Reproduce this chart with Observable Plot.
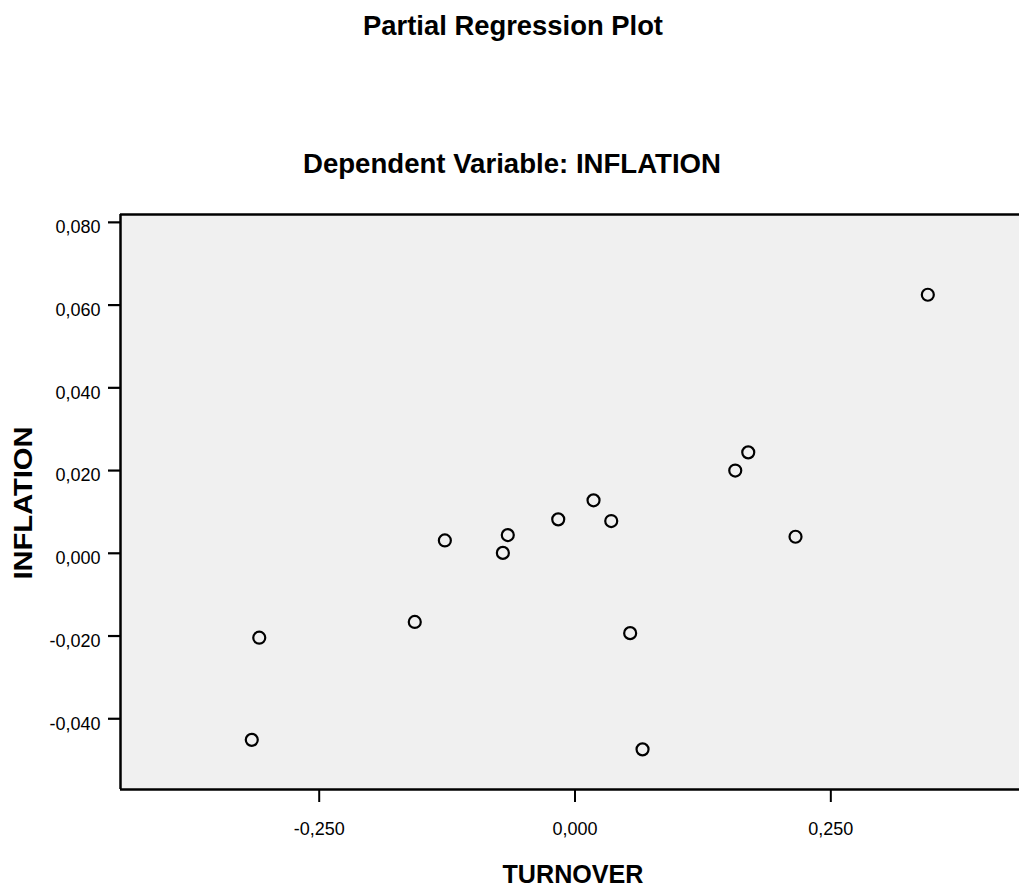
<!DOCTYPE html>
<html>
<head>
<meta charset="utf-8">
<script src="https://cdn.jsdelivr.net/npm/d3@7"></script>
<script src="https://cdn.jsdelivr.net/npm/@observablehq/plot@0.6"></script>
<style>
  html, body { margin: 0; padding: 0; background: #ffffff; }
</style>
</head>
<body>
<div id="chart"></div>
<script>
const title = "Partial Regression Plot";
const subtitle = "Dependent Variable: INFLATION";
const xLabel = "TURNOVER";
const yLabel = "INFLATION";

const turnover  = [-0.3086, -0.3159, -0.1566, -0.1272, -0.0657, -0.0705, -0.0164, 0.0181, 0.0354, 0.0539, 0.0660, 0.1566, 0.1693, 0.2155, 0.3448];
const inflation = [-0.0204, -0.0451, -0.0166, 0.0031, 0.0044, 0.0001, 0.0082, 0.0128, 0.0078, -0.0193, -0.0474, 0.0200, 0.0244, 0.0040, 0.0625];

const xTicks = [-0.25, 0, 0.25];
const yTicks = [-0.04, -0.02, 0, 0.02, 0.04, 0.06, 0.08];
const xDomain = [-0.4442, 0.4344];
const yDomain = [-0.0571, 0.0819];

const data = turnover.map((t, i) => ({turnover: t, inflation: inflation[i]}));
const fmt = v => (Math.abs(v) < 1e-9 ? 0 : v).toFixed(3).replace(".", ",");

const chart = Plot.plot({
  width: 1019,
  height: 887,
  marginTop: 214,
  marginLeft: 120,
  marginRight: 0,
  marginBottom: 98,
  x: {domain: xDomain},
  y: {domain: yDomain},
  style: {fontFamily: "'Liberation Sans', Arial, sans-serif", background: "#ffffff", overflow: "visible", color: "black"},
  marks: [
    Plot.frame({fill: "#f0f0f0", stroke: "none"}),
    Plot.axisX(xTicks, {tickSize: 13, tickPadding: 20, tickFormat: fmt, fontSize: 18, strokeWidth: 2, label: null, fill: "black", stroke: "black"}),
    Plot.axisY(yTicks, {tickSize: 12, strokeWidth: 2.2, fill: "none", stroke: "black", label: null}),
    Plot.axisY(yTicks, {tickSize: 12, tickPadding: 8, stroke: "none", fill: "black", dy: 5, tickFormat: fmt, fontSize: 18, label: null}),
    Plot.ruleX([xDomain[0]], {stroke: "black", strokeWidth: 2.5}),
    Plot.ruleY(yDomain, {stroke: "black", strokeWidth: 2.5}),
    Plot.dot(data, {x: "turnover", y: "inflation", r: 6, stroke: "black", strokeWidth: 2.2, fill: "none"})
  ]
});

const svg = d3.select(chart);
function addText(str, x, y, size, len, rotate) {
  const t = svg.append("text")
    .attr("text-anchor", "middle")
    .attr("font-family", "'Liberation Sans Narrow', 'Liberation Sans', Arial, sans-serif")
    .attr("font-weight", "bold")
    .attr("font-size", size)
    .attr("fill", "black")
    .attr("textLength", len)
    .attr("lengthAdjust", "spacingAndGlyphs")
    .text(str);
  if (rotate) t.attr("transform", `translate(${x},${y}) rotate(-90)`);
  else t.attr("x", x).attr("y", y);
  return t;
}
addText(title, 513, 35, 28, 300, false);
addText(subtitle, 512, 173, 28, 418, false);
addText(xLabel, 573, 883, 25, 141, false).attr("font-family", "'Liberation Sans', Arial, sans-serif");
addText(yLabel, 32, 503, 25, 153, true).attr("font-family", "'Liberation Sans', Arial, sans-serif");

document.getElementById("chart").appendChild(chart);
</script>
</body>
</html>
